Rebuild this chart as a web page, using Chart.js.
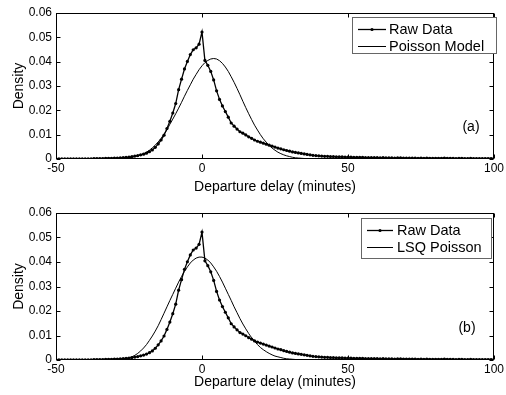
<!DOCTYPE html>
<html>
<head>
<meta charset="utf-8">
<script src="https://cdn.jsdelivr.net/npm/chart.js@4.4.1/dist/chart.umd.min.js"></script>
<style>
  html, body { margin: 0; padding: 0; background: #fff; }
  #wrap { position: relative; width: 506px; height: 395px; }
  canvas { position: absolute; left: 0; }
  #c1 { top: 0; }
  #c2 { top: 197px; }
</style>
</head>
<body>
<div id="wrap">
  <canvas id="c1" width="506" height="197"></canvas>
  <canvas id="c2" width="506" height="198"></canvas>
</div>
<script>
// departure delay in minutes, one raw-data bin per minute
const rawMinutes = [
  -50,-49,-48,-47,-46,-45,-44,-43,-42,-41,-40,-39,-38,-37,-36,-35,-34,-33,-32,-31,
  -30,-29,-28,-27,-26,-25,-24,-23,-22,-21,-20,-19,-18,-17,-16,-15,-14,-13,-12,-11,
  -10,-9,-8,-7,-6,-5,-4,-3,-2,-1,0,1,2,3,4,5,6,7,8,9,
  10,11,12,13,14,15,16,17,18,19,20,21,22,23,24,25,26,27,28,29,
  30,31,32,33,34,35,36,37,38,39,40,41,42,43,44,45,46,47,48,49,
  50,51,52,53,54,55,56,57,58,59,60,61,62,63,64,65,66,67,68,69,
  70,71,72,73,74,75,76,77,78,79,80,81,82,83,84,85,86,87,88,89,
  90,91,92,93,94,95,96,97,98,99,100
];
const rawDensity = [
  0.0001,0.0001,0.0001,0.0001,0.0001,0.0001,0.0001,0.0001,0.0001,0.0001,
  0.0001,0.0001,0.0001,0.0002,0.0002,0.0002,0.0002,0.0003,0.0003,0.0003,
  0.0004,0.0004,0.0005,0.0006,0.0007,0.0008,0.0010,0.0012,0.0014,0.0017,
  0.0020,0.0024,0.0030,0.0037,0.0048,0.0062,0.0078,0.0098,0.0125,0.0155,
  0.0189,0.0228,0.0285,0.0328,0.0370,0.0401,0.0429,0.0449,0.0457,0.0472,
  0.0522,0.0405,0.0385,0.0360,0.0325,0.0280,0.0245,0.0218,0.0195,0.0172,
  0.0148,0.0135,0.0123,0.0112,0.0106,0.0099,0.0091,0.0085,0.0078,0.0073,
  0.0069,0.0065,0.0061,0.0057,0.0053,0.0049,0.0045,0.0042,0.0038,0.0035,
  0.0032,0.0029,0.0027,0.0025,0.0023,0.0021,0.0019,0.0017,0.0015,0.0014,
  0.0013,0.0012,0.0011,0.0011,0.0010,0.0010,0.0009,0.0009,0.0009,0.0008,
  0.0008,0.0008,0.0007,0.0007,0.0007,0.0007,0.0006,0.0006,0.0006,0.0006,
  0.0006,0.0005,0.0006,0.0005,0.0005,0.0005,0.0004,0.0005,0.0005,0.0004,
  0.0004,0.0004,0.0004,0.0004,0.0003,0.0004,0.0003,0.0004,0.0003,0.0003,
  0.0003,0.0003,0.0003,0.0004,0.0003,0.0003,0.0003,0.0002,0.0003,0.0003,
  0.0002,0.0002,0.0003,0.0002,0.0002,0.0002,0.0002,0.0002,0.0002,0.0002,
  0.0002
];

// fitted curves, sampled where they leave the axis
const modelMinutes = [
  -50,-32,-31,-30,-29,-28,-27,-26,-25,-24,-23,-22,-21,-20,-19,-18,-17,-16,-15,-14,
  -13,-12,-11,-10,-9,-8,-7,-6,-5,-4,-3,-2,-1,0,1,2,3,4,5,6,
  7,8,9,10,11,12,13,14,15,16,17,18,19,20,21,22,23,24,25,26,
  27,28,29,30,31,32,33,34,35,36,37,38,100
];
const poissonModel = [
  0,0,0.0001,0.0001,0.0001,0.0002,0.0003,0.0004,0.0005,0.0007,0.0010,0.0013,0.0017,0.0022,0.0028,0.0036,0.0046,0.0057,0.0070,0.0085,
  0.0102,0.0120,0.0143,0.0164,0.0186,0.0209,0.0233,0.0258,0.0282,0.0305,0.0328,0.0348,0.0367,0.0383,0.0396,0.0405,0.0411,0.0413,0.0411,0.0404,
  0.0393,0.0378,0.0360,0.0338,0.0315,0.0290,0.0264,0.0237,0.0211,0.0186,0.0162,0.0139,0.0119,0.0100,0.0083,0.0069,0.0056,0.0045,0.0036,0.0028,
  0.0022,0.0017,0.0013,0.0010,0.0007,0.0005,0.0004,0.0003,0.0002,0.0001,0.0001,0,0
];
const lsqPoisson = [
  0,0,0.0001,0.0001,0.0001,0.0002,0.0004,0.0006,0.0009,0.0013,0.0019,0.0027,0.0037,0.0049,0.0063,0.0080,0.0098,0.0118,0.0140,0.0165,
  0.0191,0.0217,0.0243,0.0268,0.0293,0.0318,0.0341,0.0362,0.0380,0.0396,0.0408,0.0416,0.0420,0.0420,0.0416,0.0408,0.0396,0.0380,0.0362,0.0341,
  0.0318,0.0293,0.0268,0.0243,0.0217,0.0193,0.0169,0.0147,0.0127,0.0108,0.0091,0.0076,0.0063,0.0051,0.0042,0.0034,0.0027,0.0021,0.0016,0.0013,
  0.0010,0.0007,0.0005,0.0004,0.0003,0.0002,0.0001,0.0001,0,0,0,0,0
];

const xTicks = [-50, 0, 50, 100];
const yTicks = [0, 0.01, 0.02, 0.03, 0.04, 0.05, 0.06];
const seriesNames = ['Raw Data', 'Poisson Model', 'LSQ Poisson'];
const panelTags = ['(a)', '(b)'];

const FONT = '"Liberation Sans", Arial, Helvetica, sans-serif';

const zip = (xs, ys) => xs.map((x, i) => ({ x: x, y: ys[i] }));

// box, inward ticks, legend and panel tag in the MATLAB look
const matlabFrame = {
  id: 'matlabFrame',
  afterDraw(chart, args, o) {
    const { ctx, chartArea: a } = chart;
    const x = chart.scales.x, y = chart.scales.y;
    const L = Math.round(a.left) + 0.5, R = Math.round(a.right) - 0.5;
    const T = Math.round(a.top) + 0.5, B = Math.round(a.bottom) - 0.5;
    ctx.save();
    ctx.strokeStyle = '#000';
    ctx.lineWidth = 1;
    ctx.strokeRect(L, T, R - L, B - T);
    ctx.beginPath();
    yTicks.forEach(v => {
      const py = Math.round(y.getPixelForValue(v)) + 0.5;
      ctx.moveTo(L, py); ctx.lineTo(L + 4, py);
      ctx.moveTo(R, py); ctx.lineTo(R - 4, py);
    });
    xTicks.forEach(v => {
      const px = Math.round(x.getPixelForValue(v)) + 0.5;
      ctx.moveTo(px, B); ctx.lineTo(px, B - 4);
      ctx.moveTo(px, T); ctx.lineTo(px, T + 4);
    });
    ctx.stroke();

    // legend
    const g = o.legend;
    ctx.fillStyle = '#fff';
    ctx.fillRect(g.x, g.y, g.w, g.h);
    ctx.strokeStyle = '#666';
    ctx.strokeRect(g.x + 0.5, g.y + 0.5, g.w, g.h);
    ctx.font = '14.5px ' + FONT;
    ctx.textBaseline = 'middle';
    ctx.textAlign = 'left';
    chart.data.datasets.forEach((ds, i) => {
      const cy = Math.round(g.y + g.rows[i]) + 0.5;
      ctx.strokeStyle = '#000';
      ctx.lineWidth = ds.borderWidth;
      ctx.beginPath();
      ctx.moveTo(g.lineX0, cy); ctx.lineTo(g.lineX1, cy);
      ctx.stroke();
      if (ds.pointRadius > 0) {
        ctx.fillStyle = '#000';
        ctx.beginPath();
        ctx.arc((g.lineX0 + g.lineX1) / 2, cy, ds.pointRadius, 0, Math.PI * 2);
        ctx.fill();
      }
      ctx.fillStyle = '#000';
      ctx.fillText(ds.label, g.textX, cy);
    });

    // panel tag
    ctx.font = '14px ' + FONT;
    ctx.textAlign = 'center';
    ctx.fillText(o.tag.text, o.tag.x, o.tag.y);
    ctx.restore();
  }
};

function makePanel(id, modelName, modelValues, tag, geo) {
  return new Chart(document.getElementById(id), {
    type: 'line',
    data: {
      datasets: [
        {
          label: seriesNames[0],
          data: zip(rawMinutes, rawDensity),
          borderColor: '#000',
          backgroundColor: '#000',
          borderWidth: 1.3,
          pointRadius: 1.6,
          pointBorderWidth: 0,
          pointBackgroundColor: '#000',
          tension: 0
        },
        {
          label: modelName,
          data: zip(modelMinutes, modelValues),
          borderColor: '#000',
          borderWidth: 1,
          pointRadius: 0,
          tension: 0
        }
      ]
    },
    options: {
      responsive: false,
      animation: false,
      events: [],
      layout: { padding: { top: geo.top, right: 9, left: 0, bottom: 0 } },
      plugins: {
        legend: { display: false },
        tooltip: { enabled: false },
        matlabFrame: { legend: geo.legend, tag: { text: tag, x: geo.tagX, y: geo.tagY } }
      },
      scales: {
        x: {
          type: 'linear',
          min: -50,
          max: 100,
          afterBuildTicks: s => { s.ticks = xTicks.map(v => ({ value: v })); },
          ticks: { color: '#000', font: { family: FONT, size: 12 }, padding: 2, maxRotation: 0 },
          grid: { display: false, drawTicks: false },
          border: { display: false },
          title: {
            display: true,
            text: 'Departure delay (minutes)',
            color: '#000',
            font: { family: FONT, size: 14 },
            padding: { top: 0, bottom: geo.titlePad }
          },
          afterFit: s => { s.height = geo.xHeight; }
        },
        y: {
          min: 0,
          max: 0.06,
          afterBuildTicks: s => { s.ticks = yTicks.map(v => ({ value: v })); },
          ticks: { color: '#000', font: { family: FONT, size: 12 }, padding: 4 },
          grid: { display: false, drawTicks: false },
          border: { display: false },
          title: {
            display: true,
            text: 'Density',
            color: '#000',
            font: { family: FONT, size: 14 },
            padding: { top: 10.5, bottom: 0 }
          },
          afterFit: s => { s.width = 56; }
        }
      }
    },
    plugins: [matlabFrame]
  });
}

makePanel('c1', seriesNames[1], poissonModel, panelTags[0], {
  top: 13, xHeight: 38, titlePad: 1.5, tagX: 471, tagY: 127,
  legend: { x: 352, y: 17, w: 144, h: 36, rows: [12, 28.5], lineX0: 358, lineX1: 386, textX: 389 }
});
makePanel('c2', seriesNames[2], lsqPoisson, panelTags[1], {
  top: 16, xHeight: 35, titlePad: 4.5, tagX: 467, tagY: 131,
  legend: { x: 361, y: 21, w: 130, h: 40, rows: [11.5, 28.5], lineX0: 367, lineX1: 393, textX: 397 }
});
</script>
</body>
</html>
